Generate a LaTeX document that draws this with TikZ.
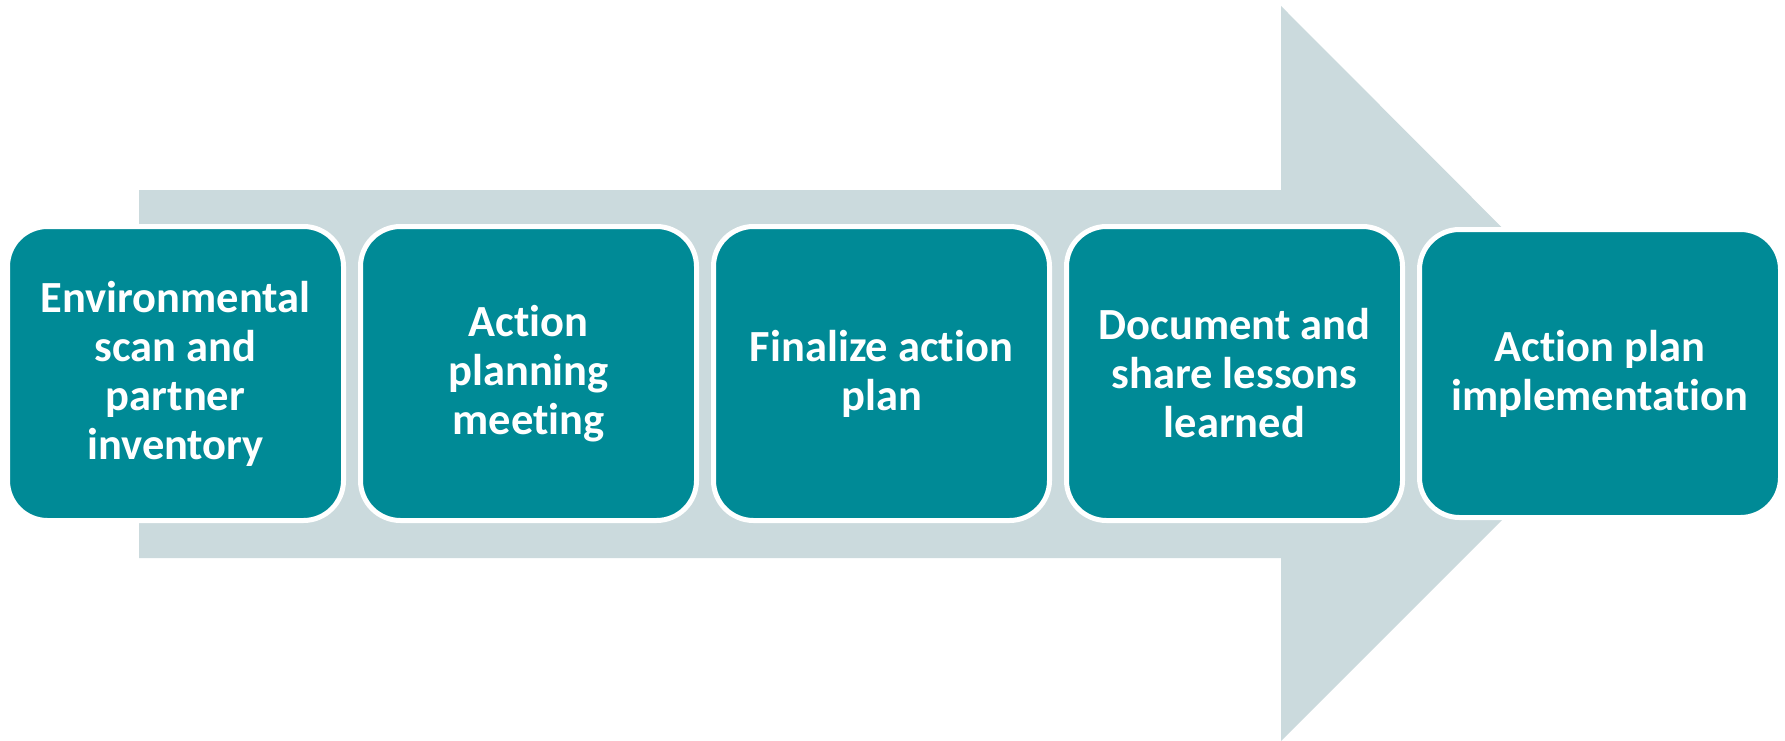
\documentclass[tikz,border=0pt]{standalone}
\usepackage{fontspec}
\setmainfont[Ligatures=NoCommon]{Carlito}
\usetikzlibrary{positioning}
\definecolor{stepteal}{HTML}{008A96}
\definecolor{arrowgray}{HTML}{CBDADD}

\begin{document}
\begin{tikzpicture}[x=1pt,y=-1pt,node distance=353pt,
		font=\bfseries\fontsize{44.5}{49}\selectfont]
		\tikzstyle{stage}=[rectangle,rounded corners=40pt,fill=stepteal,draw=white,
		line width=5pt,minimum width=336pt,minimum height=294pt,inner sep=0pt,
		text=white,align=center]
		
		\useasboundingbox (0,0) rectangle (1785,741);
		% big background arrow
		\fill[arrowgray] (139,190) -- (1281,190) -- (1281,6) -- (1648,374)
		-- (1281,741) -- (1281,558) -- (139,558) -- cycle;
		
		\node[stage]         (scan)    at (175.5,373.5)    {Environmental\\scan and\\partner\\inventory};
		\node[stage]         (meet)    [right of=scan]     {Action\\planning\\meeting};
		\node[stage]         (final)   [right of=meet]     {Finalize action\\plan};
		\node[stage]         (lessons) [right of=final]    {Document and\\share lessons\\learned};
		\node[stage,minimum width=361pt,minimum height=288pt]
		(impl) [right of=lessons,node distance=365.5pt] {Action plan\\implementation};
		
\end{tikzpicture}
\end{document}
